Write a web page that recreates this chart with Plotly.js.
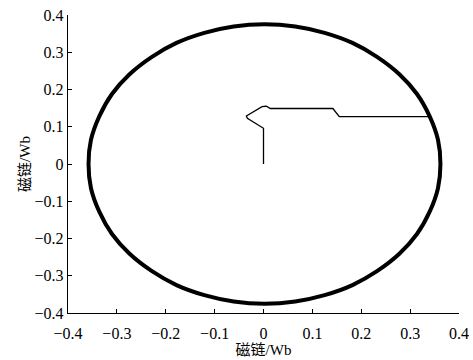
<!DOCTYPE html>
<html>
<head>
<meta charset="utf-8">
<script src="https://cdn.plot.ly/plotly-3.0.1.min.js"></script>
<style>
html,body{margin:0;padding:0;background:#fff;}
#chart{width:473px;height:360px;}
</style>
</head>
<body>
<div id="chart"></div>
<script>
// Steady-state stator flux circle
var circleX = [0.362, 0.357, 0.340, 0.314, 0.278, 0.233, 0.182, 0.125, 0.065, 0.002,
  -0.061, -0.121, -0.178, -0.229, -0.274, -0.310, -0.336, -0.353, -0.358,
  -0.353, -0.336, -0.310, -0.274, -0.229, -0.178, -0.121, -0.061, 0.002,
  0.065, 0.125, 0.182, 0.233, 0.278, 0.314, 0.340, 0.357, 0.362];
var circleY = [0, 0.065, 0.128, 0.188, 0.241, 0.287, 0.325, 0.352, 0.369, 0.375,
  0.369, 0.352, 0.325, 0.287, 0.241, 0.188, 0.128, 0.065, 0,
  -0.065, -0.128, -0.188, -0.241, -0.287, -0.325, -0.352, -0.369, -0.375,
  -0.369, -0.352, -0.325, -0.287, -0.241, -0.188, -0.128, -0.065, 0];

// Start-up flux trajectory
var startX = [0, 0, -0.033, -0.035, -0.003, 0.006, 0.014, 0.142, 0.155, 0.341];
var startY = [0, 0.096, 0.123, 0.129, 0.154, 0.155, 0.149, 0.149, 0.127, 0.127];

var tickVals = [-0.4, -0.3, -0.2, -0.1, 0, 0.1, 0.2, 0.3, 0.4];
var tickText = ['\u22120.4', '\u22120.3', '\u22120.2', '\u22120.1', '0', '0.1', '0.2', '0.3', '0.4'];
var axisTitle = '磁链/Wb';

var fontFam = 'Liberation Serif, Noto Sans CJK SC, serif';

var traces = [
  {x: circleX, y: circleY, type: 'scatter', mode: 'lines',
   line: {color: '#000', width: 4, shape: 'spline', smoothing: 1}, hoverinfo: 'skip'},
  {x: startX, y: startY, type: 'scatter', mode: 'lines',
   line: {color: '#000', width: 1.3}, hoverinfo: 'skip'}
];

function makeAxis(standoff, titleStandoff) {
  return {
    range: [-0.4, 0.4], tickvals: tickVals, ticktext: tickText,
    ticks: 'inside', ticklen: 4, tickwidth: 1, tickcolor: '#000',
    showline: true, linecolor: '#000', linewidth: 1.2, mirror: false,
    showgrid: false, zeroline: false,
    tickfont: {family: fontFam, size: 16, color: '#000'},
    ticklabelstandoff: standoff,
    title: {text: axisTitle, font: {family: fontFam, size: 15, color: '#000'}, standoff: titleStandoff}
  };
}

var layout = {
  width: 473, height: 360,
  margin: {l: 68, r: 14, t: 15, b: 47},
  paper_bgcolor: '#fff', plot_bgcolor: '#fff',
  showlegend: false,
  font: {family: fontFam, color: '#000', size: 16},
  xaxis: makeAxis(6, 2),
  yaxis: makeAxis(0, 0)
};

Plotly.newPlot('chart', traces, layout, {staticPlot: true, displayModeBar: false});
</script>
</body>
</html>
